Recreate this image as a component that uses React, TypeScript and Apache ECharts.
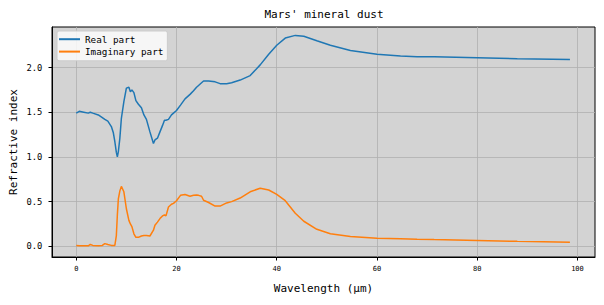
import React, { useEffect, useRef } from "react";
import * as echarts from "echarts";

const wavelengths = [
  0, 0.6, 1.5, 2.4, 2.8, 3.3, 4.4, 5.2, 5.7, 6.3, 7.0, 7.4, 7.7, 8.0, 8.2, 8.4, 8.7, 9.0, 9.5, 10.0,
  10.5, 10.8, 11.1, 11.5, 11.9, 12.4, 13.0, 13.5, 14.0, 14.7, 15.4, 15.7, 16.2, 16.7, 17.2, 17.6, 17.9,
  18.4, 19.0, 19.4, 20.0, 20.8, 21.7, 22.7, 23.4, 24.0, 24.4, 25.0, 25.4, 26.4, 27.7, 28.7, 30.0, 31.0,
  32.7, 34.7, 36.7, 38.4, 40.0, 41.7, 43.7, 45.4, 48.0, 50.7, 54.7, 60.0, 64.7, 68.0, 71.4, 80.0, 88.0, 98.5,
];

const realPart = [
  1.49, 1.51, 1.5, 1.49, 1.5, 1.49, 1.47, 1.44, 1.42, 1.4, 1.34, 1.27, 1.17, 1.05, 1.0, 1.06, 1.21, 1.43, 1.62, 1.77,
  1.78, 1.73, 1.75, 1.72, 1.63, 1.59, 1.55, 1.47, 1.42, 1.28, 1.15, 1.19, 1.21, 1.28, 1.35, 1.41, 1.41,
  1.42, 1.47, 1.49, 1.52, 1.58, 1.65, 1.7, 1.74, 1.78, 1.8, 1.83, 1.85, 1.85, 1.84, 1.82, 1.82, 1.83,
  1.86, 1.91, 2.03, 2.15, 2.25, 2.33, 2.36, 2.35, 2.3, 2.25, 2.19, 2.15, 2.13, 2.12, 2.12, 2.11, 2.1, 2.09,
];

const imaginaryPart = [
  0.01, 0.005, 0.005, 0.005, 0.02, 0.01, 0.005, 0.01, 0.03, 0.02, 0.01, 0.01, 0.01, 0.12, 0.35, 0.53, 0.62, 0.67, 0.61, 0.42,
  0.29, 0.25, 0.22, 0.14, 0.1, 0.1, 0.115, 0.12, 0.12, 0.115, 0.18, 0.235, 0.27, 0.31, 0.34, 0.35, 0.34,
  0.44, 0.47, 0.48, 0.51, 0.57, 0.58, 0.56, 0.57, 0.575, 0.57, 0.56, 0.515, 0.49, 0.45, 0.45, 0.485, 0.5,
  0.54, 0.61, 0.65, 0.63, 0.58, 0.51, 0.37, 0.28, 0.19, 0.14, 0.11, 0.09, 0.085, 0.08, 0.075, 0.065, 0.055, 0.045,
];

const xTicks = [0, 20, 40, 60, 80, 100];
const yTicks = [0, 0.5, 1.0, 1.5, 2.0];

const FONT = "'DejaVu Sans Mono', monospace";

export default function App() {
  const ref = useRef<HTMLDivElement>(null);

  useEffect(() => {
    if (!ref.current) return;
    const chart = echarts.init(ref.current, undefined, { renderer: "svg" });
    const realData = wavelengths.map((w, i) => [w, realPart[i]]);
    const imagData = wavelengths.map((w, i) => [w, imaginaryPart[i]]);
    chart.setOption({
      animation: false,
      backgroundColor: "#ffffff",
      title: {
        text: "Mars' mineral dust",
        left: 324,
        textAlign: "center",
        top: 8,
        padding: 0,
        textStyle: { fontFamily: FONT, fontSize: 11, fontWeight: "normal", color: "#000", lineHeight: 12 },
      },
      legend: {
        left: 57,
        top: 31,
        orient: "vertical",
        padding: [2, 4, 3, 2],
        itemGap: 0,
        itemWidth: 21,
        itemHeight: 2,
        icon: "rect",
        backgroundColor: "rgba(255,255,255,0.8)",
        borderColor: "#cccccc",
        borderWidth: 1,
        borderRadius: 2,
        textStyle: { fontFamily: FONT, fontSize: 9.3, color: "#000", lineHeight: 12.4 },
        data: ["Real part", "Imaginary part"],
      },
      grid: {
        left: 52,
        right: 9,
        top: 27,
        bottom: 48,
        outerBoundsMode: "none",
        containLabel: false,
        show: true,
        backgroundColor: "#d3d3d3",
        borderColor: "#000",
        borderWidth: 1,
      },
      xAxis: {
        type: "value",
        min: -4.84,
        max: 103.5,
        name: "Wavelength (μm)",
        nameLocation: "middle",
        nameGap: 26,
        nameMoveOverlap: false,
        nameTextStyle: { fontFamily: FONT, fontSize: 11, color: "#000" },
        axisLine: { show: true, onZero: false, lineStyle: { color: "#000", width: 1 } },
        axisTick: { show: true, length: 3.5, lineStyle: { color: "#000" }, customValues: xTicks },
        axisLabel: {
          fontFamily: FONT,
          fontSize: 7,
          color: "#000",
          margin: 8.5,
          customValues: xTicks,
          formatter: (v: number) => String(v),
        },
        splitLine: { show: true, lineStyle: { color: "#b0b0b0", width: 0.8 } },
      },
      yAxis: {
        type: "value",
        min: -0.12,
        max: 2.454,
        name: "Refractive index",
        nameLocation: "middle",
        nameGap: 33,
        nameMoveOverlap: false,
        nameTextStyle: { fontFamily: FONT, fontSize: 11, color: "#000" },
        axisLine: { show: true, onZero: false, lineStyle: { color: "#000", width: 1 } },
        axisTick: { show: true, length: 3.5, lineStyle: { color: "#000" }, customValues: yTicks },
        axisLabel: {
          fontFamily: FONT,
          fontSize: 8.8,
          color: "#000",
          margin: 9.6,
          customValues: yTicks,
          formatter: (v: number) => v.toFixed(1),
        },
        splitLine: { show: true, lineStyle: { color: "#b0b0b0", width: 0.8 } },
      },
      series: [
        {
          name: "Real part",
          type: "line",
          data: realData,
          showSymbol: false,
          symbol: "none",
          color: "#1f77b4",
          lineStyle: { color: "#1f77b4", width: 1.5 },
        },
        {
          name: "Imaginary part",
          type: "line",
          data: imagData,
          showSymbol: false,
          symbol: "none",
          color: "#ff7f0e",
          lineStyle: { color: "#ff7f0e", width: 1.5 },
        },
      ],
    });
    return () => chart.dispose();
  }, []);

  return <div ref={ref} style={{ width: 604, height: 305, position: "absolute", left: 0, top: 0 }} />;
}
